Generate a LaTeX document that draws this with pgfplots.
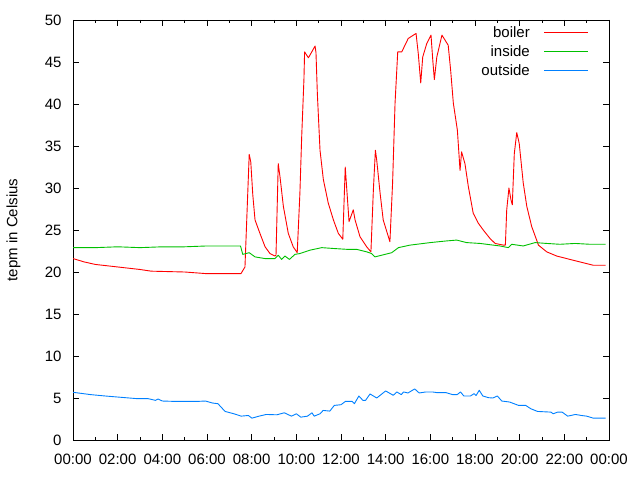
\documentclass[border=0pt]{standalone}
\usepackage{pgfplots}
\pgfplotsset{compat=1.18}
\usepackage{fontspec}
\setmainfont{Liberation Sans}
\definecolor{gpred}{RGB}{255,0,0}
\definecolor{gpgreen}{RGB}{0,192,0}
\definecolor{gpblue}{RGB}{0,128,255}
\begin{document}
\begin{tikzpicture}
\useasboundingbox (0,0) rectangle (640pt,480pt);
\begin{axis}[
  at={(73pt,40pt)}, anchor=south west,
  scale only axis, width=536pt, height=420pt,
  xmin=0, xmax=24, ymin=0, ymax=50,
  xtick={0,2,...,24},
  xticklabels={00:00,02:00,04:00,06:00,08:00,10:00,12:00,14:00,16:00,18:00,20:00,22:00,00:00},
  minor xtick={1,3,...,23},
  ytick={0,5,...,50},
  tick align=inside,
  major tick length=6pt, minor tick length=3pt,
  tick style={black, line width=0.8pt},
  axis line style={black, line width=0.8pt},
  /pgf/number format/assume math mode=true,
  font=\fontsize{15pt}{17pt}\selectfont,
  ticklabel style={font=\fontsize{15pt}{17pt}\selectfont},
  xticklabel style={yshift=-10pt},
  yticklabel style={xshift=-8pt},
  ylabel={tepm in Celsius},
  ylabel style={at={(axis description cs:-0.111,0.5)}, anchor=center, font=\fontsize{15pt}{17pt}\selectfont},
  legend style={draw=none, fill=none, at={(axis cs:23.10,49.2)}, anchor=north east,
    font=\fontsize{15pt}{17pt}\selectfont, row sep=8pt, inner sep=0pt,
    nodes={inner sep=0pt, text height=11pt, text depth=0pt}},
  legend cell align=right,
  legend plot pos=right,
  legend image code/.code={\path (0pt,0pt); \draw[#1] (14pt,0pt) -- (58pt,0pt);},
  every axis plot/.append style={line width=0.9pt, line join=round},
]
\addplot[gpred] coordinates {
(0,21.6) (0.5,21.2) (1,20.9) (2,20.6) (3,20.3) (3.5,20.1) (5,20.0) (6,19.8) (7.52,19.8)
(7.70,20.6) (7.89,34.0) (7.96,33.1) (8.05,29.2) (8.15,26.2) (8.37,24.6) (8.60,23.0) (8.82,22.2) (9.04,21.9)
(9.09,22.0) (9.19,32.9) (9.27,31.3) (9.42,27.8) (9.64,24.6) (9.86,23.0) (10.04,22.3)
(10.16,29.4) (10.24,36.1) (10.34,42.9) (10.37,46.2) (10.54,45.5) (10.84,46.9) (10.88,46.1) (10.94,41.3)
(11.06,34.5) (11.21,31.0) (11.43,28.2) (11.66,26.2) (11.88,24.6) (12.08,23.9)
(12.13,27.8) (12.19,32.5) (12.26,29.8) (12.36,26.0) (12.55,27.4) (12.63,26.2) (12.85,24.2) (13.15,23.0) (13.34,22.4)
(13.45,29.8) (13.54,34.5) (13.60,33.3) (13.75,29.4) (13.89,26.2) (14.19,23.6)
(14.31,30.6) (14.42,40.1) (14.54,46.2) (14.72,46.2) (15.01,47.8) (15.36,48.4) (15.46,46.0) (15.57,42.5)
(15.66,45.6) (15.84,47.2) (16.03,48.2) (16.11,45.2) (16.18,42.9) (16.29,45.6) (16.52,48.2) (16.80,47.0)
(16.91,44.0) (17.03,40.1) (17.21,36.9) (17.33,32.1) (17.40,34.3) (17.55,32.9) (17.70,30.2) (17.92,27.0)
(18.15,25.8) (18.37,25.0) (18.67,24.0) (18.90,23.4) (19.27,23.2) (19.36,23.2)
(19.42,27.4) (19.52,30.0) (19.61,28.6) (19.67,28.0) (19.76,34.1) (19.87,36.6) (19.98,35.3) (20.16,30.6)
(20.32,27.8) (20.54,25.4) (20.76,23.8) (20.84,23.2) (21.21,22.4) (21.66,21.9) (22.25,21.5) (22.70,21.2)
(23.30,20.8) (23.85,20.8)
};
\addlegendentry{boiler}
\addplot[gpgreen] coordinates {
(0,22.9) (1,22.9) (2,23.0) (3,22.9) (4,23.0) (5,23.0) (6,23.1) (7.5,23.1)
(7.60,22.1) (7.89,22.3) (8.15,21.8) (8.60,21.6) (9.04,21.6) (9.19,22.0) (9.34,21.5) (9.49,21.9) (9.69,21.5)
(9.94,22.1) (10.16,22.2) (10.61,22.6) (11.14,22.9) (11.66,22.8) (12.26,22.7) (12.70,22.7) (13.15,22.4)
(13.37,22.2) (13.52,21.8) (13.82,22.0) (14.27,22.3) (14.57,22.9) (15.09,23.2) (15.99,23.5) (16.73,23.7)
(17.18,23.8) (17.63,23.5) (18.22,23.4) (18.82,23.2) (19.12,23.1) (19.49,22.9) (19.64,23.3) (20.16,23.1)
(20.69,23.5) (21.21,23.4) (21.8,23.3) (22.48,23.4) (23.15,23.3) (23.85,23.3)
};
\addlegendentry{inside}
\addplot[gpblue] coordinates {
(0,5.68) (0.8,5.4) (1.44,5.24) (2.16,5.08) (2.88,4.92) (3.37,4.92) (3.69,4.72) (3.81,4.88) (4.0,4.64)
(4.49,4.6) (4.97,4.6) (5.61,4.6) (5.93,4.64) (6.25,4.4) (6.49,4.32) (6.81,3.4) (7.21,3.12) (7.53,2.84)
(7.85,2.92) (8.01,2.6) (8.33,2.84) (8.65,3.04) (9.13,3.0) (9.46,3.24) (9.78,2.84) (10.0,3.12) (10.2,2.72)
(10.5,2.84) (10.7,3.24) (10.8,2.84) (11.06,3.12) (11.2,3.52) (11.5,3.44) (11.7,4.12) (12.0,4.2) (12.2,4.6)
(12.5,4.6) (12.6,4.32) (12.8,5.24) (12.98,4.72) (13.1,4.72) (13.3,5.48) (13.6,5.0) (14.0,5.84) (14.34,5.32)
(14.5,5.72) (14.7,5.4) (14.8,5.72) (15.0,5.6) (15.3,6.08) (15.5,5.6) (15.8,5.72) (16.1,5.72) (16.3,5.64)
(16.7,5.64) (17.0,5.4) (17.2,5.4) (17.35,5.72) (17.5,5.24) (17.8,5.24) (17.96,5.52) (18.05,5.3) (18.19,5.92)
(18.35,5.24) (18.6,5.04) (18.8,5.0) (19.0,5.24) (19.2,4.64) (19.55,4.52) (19.95,4.12) (20.27,4.12)
(20.5,3.72) (20.8,3.4) (21.4,3.32) (21.5,3.12) (21.7,3.32) (21.9,3.32) (22.15,2.84) (22.5,3.04)
(22.76,2.92) (23.0,2.84) (23.3,2.6) (23.85,2.6)
};
\addlegendentry{outside}
\end{axis}
\end{tikzpicture}
\end{document}
